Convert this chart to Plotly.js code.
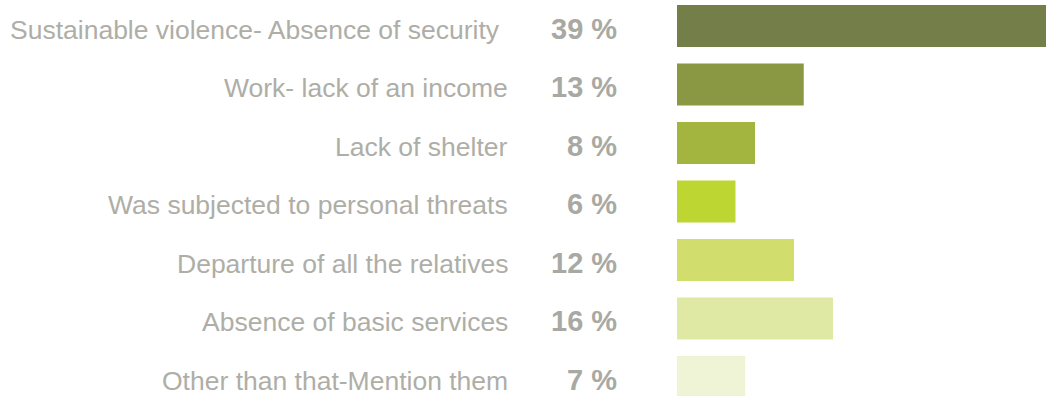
<!DOCTYPE html>
<html><head><meta charset="utf-8">
<script src="https://cdn.plot.ly/plotly-3.0.1.min.js"></script>
<style>html,body{margin:0;padding:0;background:#fff;}#chart{width:1046px;height:396px;}</style>
</head><body><div id="chart"></div>
<script>
const categories = [
  "Sustainable violence- Absence of security",
  "Work- lack of an income",
  "Lack of shelter",
  "Was subjected to personal threats",
  "Departure of all the relatives",
  "Absence of basic services",
  "Other than that-Mention them"
];
const values = [39, 13, 8, 6, 12, 16, 7];
const valueLabels = ["39 %", "13 %", "8 %", "6 %", "12 %", "16 %", "7 %"];
const barColors = ["#737e48", "#8a9844", "#a3b43f", "#bed631", "#d1de6d", "#dfe9a3", "#eff4d7"];

const annotations = [];
categories.forEach((c, i) => {
  annotations.push({x: 0, xref: 'paper', y: c, yref: 'y', text: c, showarrow: false,
    xanchor: 'right', xshift: i === 0 ? -175 : -167, yshift: -4,
    font: {family: 'Liberation Sans, Arial, sans-serif', size: 26.5, color: '#aeaea7'}});
  annotations.push({x: 0, xref: 'paper', y: c, yref: 'y', text: '<b>' + valueLabels[i] + '</b>', showarrow: false,
    xanchor: 'right', xshift: -58, yshift: -3,
    font: {family: 'Liberation Sans, Arial, sans-serif', size: 29, color: '#a9a9a3'}});
});

Plotly.newPlot('chart', [{
  type: 'bar', orientation: 'h', x: values, y: categories,
  marker: {color: barColors, line: {width: 0}}, width: 0.718,
  hoverinfo: 'none'
}], {
  width: 1046, height: 396,
  margin: {l: 677, r: 0, t: 0, b: 0, pad: 0},
  paper_bgcolor: '#ffffff', plot_bgcolor: '#ffffff',
  showlegend: false,
  xaxis: {range: [0, 37.85], visible: false, fixedrange: true},
  yaxis: {type: 'category', range: [6.325, -0.444], visible: false, fixedrange: true},
  annotations: annotations
}, {displayModeBar: false, staticPlot: true});
</script></body></html>
